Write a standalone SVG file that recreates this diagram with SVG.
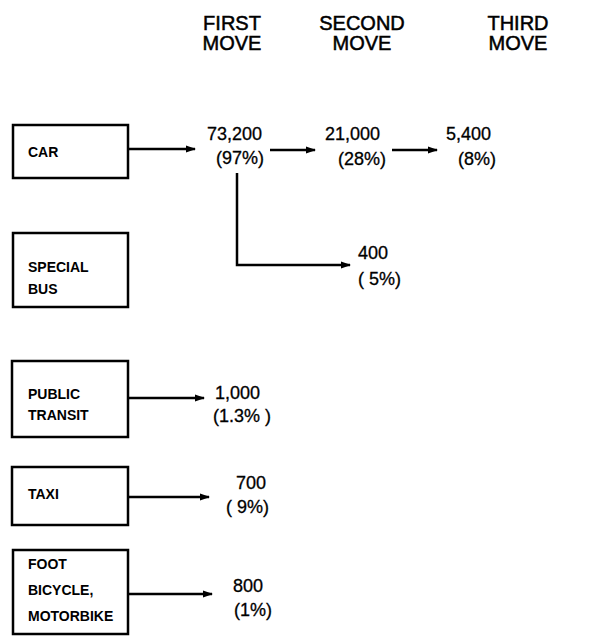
<svg xmlns="http://www.w3.org/2000/svg" width="593" height="636" viewBox="0 0 593 636">
<defs>
<marker id="ah" markerWidth="10" markerHeight="8" refX="9" refY="4" orient="auto" markerUnits="userSpaceOnUse">
<path d="M0,0.5 L10,4 L0,7.5 Z" fill="#000"/>
</marker>
<style>
.box{fill:#fff;stroke:#000;stroke-width:2.5}
.lbl{font-family:"Liberation Sans",Arial,sans-serif;font-size:14px;font-weight:bold;fill:#000}
.num{font-family:"Liberation Sans",Arial,sans-serif;font-size:18px;fill:#000;stroke:#000;stroke-width:0.3}
.hdr{font-family:"Liberation Sans",Arial,sans-serif;font-size:20px;fill:#000;stroke:#000;stroke-width:0.5;text-anchor:middle}
.con{fill:none;stroke:#000;stroke-width:2.5;marker-end:url(#ah)}
</style>
</defs>
<rect width="593" height="636" fill="#fff"/>
<g id="headers">
<text class="hdr" x="232" y="30">FIRST</text>
<text class="hdr" x="232" y="50">MOVE</text>
<text class="hdr" x="362" y="30">SECOND</text>
<text class="hdr" x="362" y="50">MOVE</text>
<text class="hdr" x="518" y="30">THIRD</text>
<text class="hdr" x="518" y="50">MOVE</text>
</g>
<g id="car"><rect class="box" x="13" y="125" width="115" height="53"/><text class="lbl" x="28" y="157">CAR</text></g>
<g id="specialbus"><rect class="box" x="13" y="233" width="115" height="74"/><text class="lbl" x="28" y="272">SPECIAL</text><text class="lbl" x="28" y="294">BUS</text></g>
<g id="publictransit"><rect class="box" x="12" y="361" width="116" height="76"/><text class="lbl" x="28" y="399">PUBLIC</text><text class="lbl" x="28" y="420">TRANSIT</text></g>
<g id="taxi"><rect class="box" x="12" y="467" width="116" height="58"/><text class="lbl" x="28" y="499">TAXI</text></g>
<g id="foot"><rect class="box" x="13" y="550" width="115" height="84"/><text class="lbl" x="28" y="569">FOOT</text><text class="lbl" x="28" y="595">BICYCLE,</text><text class="lbl" x="28" y="621">MOTORBIKE</text></g>
<g id="v1"><text class="num" x="207" y="140">73,200</text><text class="num" x="216" y="164">(97%)</text></g>
<g id="v2"><text class="num" x="325" y="140">21,000</text><text class="num" x="338" y="165">(28%)</text></g>
<g id="v3"><text class="num" x="446" y="140">5,400</text><text class="num" x="458" y="165">(8%)</text></g>
<g id="v4"><text class="num" x="358" y="259">400</text><text class="num" x="358" y="285">( 5%)</text></g>
<g id="v5"><text class="num" x="215" y="399">1,000</text><text class="num" x="213" y="422">(1.3% )</text></g>
<g id="v6"><text class="num" x="236" y="489">700</text><text class="num" x="226" y="513">( 9%)</text></g>
<g id="v7"><text class="num" x="233" y="592">800</text><text class="num" x="234" y="616">(1%)</text></g>
<g id="connectors">
<path class="con" d="M128,149 H195"/>
<path class="con" d="M270,150 H315"/>
<path class="con" d="M392,150 H437"/>
<path class="con" d="M237,173 V265 H350"/>
<path class="con" d="M128,398 H204"/>
<path class="con" d="M128,497 H209"/>
<path class="con" d="M128,594 H212"/>
</g>
</svg>
